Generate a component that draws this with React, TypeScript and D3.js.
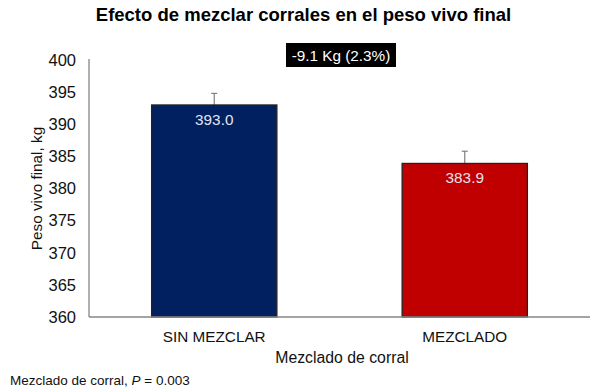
import * as d3 from 'd3';
import React from 'react';

const categories = ['SIN MEZCLAR', 'MEZCLADO'];
const values = [393.0, 383.9];
const errors = [1.8, 1.9];
const barColors = ['#002060', '#C00000'];
const yTicks = [360, 365, 370, 375, 380, 385, 390, 395, 400];
const diffLabel = '-9.1 Kg (2.3%)';

const width = 600;
const height = 390;
const left = 89;
const right = 590;
const top = 60;
const bottom = 317;
const font = 'Arial, "Liberation Sans", sans-serif';

export default function App() {
  const x = d3.scaleBand<string>()
    .domain(categories)
    .range([left, right])
    .paddingInner(0.5)
    .paddingOuter(0.25);
  const y = d3.scaleLinear().domain([360, 400]).range([bottom, top]);
  const bw = x.bandwidth();

  return (
    <svg width={width} height={height}
      style={{ position: 'absolute', left: 0, top: 0, background: '#fff' }}
      fontFamily={font}>
      <text x={303.5} y={21} textAnchor="middle" fontSize={18.5} fontWeight="bold" fill="#000">
        Efecto de mezclar corrales en el peso vivo final
      </text>

      {/* annotation box */}
      <rect x={286} y={43} width={110} height={24} fill="#000" />
      <text x={341} y={60.5} textAnchor="middle" fontSize={15.3} fill="#fff">{diffLabel}</text>

      {/* y ticks */}
      {yTicks.map(t => (
        <text key={t} x={76} y={y(t)} dy="0.35em" textAnchor="end" fontSize={16.5} fill="#111">{t}</text>
      ))}

      {/* bars */}
      {categories.map((c, i) => {
        const bx = x(c)!;
        const cx = bx + bw / 2;
        return (
          <g key={c}>
            <line x1={cx} x2={cx} y1={y(values[i])} y2={y(values[i] + errors[i])} stroke="#7f7f7f" strokeWidth={1.2} />
            <line x1={cx - 3} x2={cx + 3} y1={y(values[i] + errors[i])} y2={y(values[i] + errors[i])} stroke="#7f7f7f" strokeWidth={1.2} />
            <rect x={bx} y={y(values[i])} width={bw} height={bottom - y(values[i])}
              fill={barColors[i]} stroke="#222" strokeWidth={1.3} />
            <text x={cx} y={y(values[i]) + 20} textAnchor="middle" fontSize={15.3} fill="#e4e4f2">
              {values[i].toFixed(1)}
            </text>
            <text x={cx} y={342} textAnchor="middle" fontSize={15.3} fill="#111">{c}</text>
          </g>
        );
      })}

      {/* axes */}
      <line x1={left} x2={left} y1={top - 1} y2={bottom} stroke="#868686" strokeWidth={1.3} />
      <line x1={left} x2={right} y1={bottom} y2={bottom} stroke="#868686" strokeWidth={1.3} />

      <text x={342} y={363} textAnchor="middle" fontSize={15.8} fill="#111">Mezclado de corral</text>
      <text transform={`translate(42,${(top + bottom) / 2}) rotate(-90)`} textAnchor="middle" fontSize={15.3} fill="#111">
        Peso vivo final, kg
      </text>

      <text x={10} y={385} fontSize={13.5} fill="#111">
        Mezclado de corral, <tspan fontStyle="italic">P</tspan> = 0.003
      </text>
    </svg>
  );
}
